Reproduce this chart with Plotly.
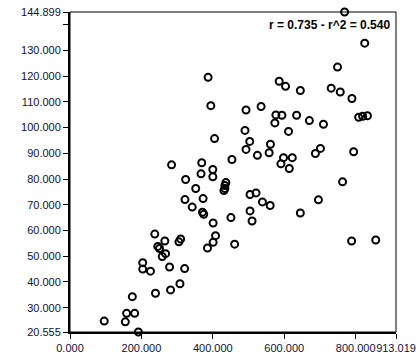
import plotly.graph_objects as go

# data
x_vals = [386.8, 394.4, 404.8, 453.5, 284.5, 369.0, 400.0, 400.0, 367.0, 323.9,
          436.6, 433.8, 433.8, 431.0, 352.1, 322.0, 372.7, 342.3, 371.0, 374.6,
          400.8, 450.7, 237.5, 265.6, 309.9, 305.1, 407.6, 400.8, 385.1, 461.1,
          245.9, 250.7, 267.6, 258.3, 203.7, 203.7, 225.4, 278.9, 321.1, 307.9,
          281.7, 239.4, 174.6, 158.6, 181.1, 154.9, 95.8, 191.5,
          749.3, 585.9, 603.7, 645.1, 731.5, 756.9, 789.6, 493.0, 535.2, 576.6,
          593.5, 573.8, 634.6, 670.4, 709.9, 808.5, 819.7, 833.0, 490.1, 612.1,
          503.4, 493.0, 561.4, 557.7, 524.8, 701.4, 687.3, 794.4, 598.0, 622.5,
          590.7, 614.1, 763.4, 504.2, 521.1, 538.9, 560.6, 695.8, 504.2, 509.9,
          645.1, 788.7, 856.3, 769.0, 825.4]
y_vals = [119.5, 108.5, 95.7, 87.6, 85.5, 86.3, 83.7, 80.9, 82.0, 79.8,
          78.6, 77.5, 76.3, 75.5, 76.3, 72.0, 72.4, 69.1, 67.1, 66.3,
          62.9, 65.0, 58.6, 55.9, 56.7, 55.6, 58.0, 55.4, 53.2, 54.7,
          53.8, 53.0, 51.0, 49.9, 47.5, 45.0, 44.2, 45.8, 45.2, 39.3,
          36.9, 35.6, 34.3, 27.8, 27.8, 24.5, 24.8, 20.555,
          123.5, 118.0, 116.0, 114.4, 115.3, 113.8, 111.3, 106.8, 108.2, 104.9,
          104.8, 101.8, 104.8, 102.7, 101.3, 104.0, 104.4, 104.6, 98.9, 98.5,
          94.6, 91.5, 93.5, 90.2, 89.2, 91.9, 89.9, 90.6, 88.3, 88.3,
          85.9, 84.1, 78.9, 74.0, 74.6, 71.1, 69.7, 71.9, 67.6, 63.7,
          66.8, 55.9, 56.3, 144.899, 132.8]

x_tick_vals = [0, 200, 400, 600, 800, 913.019]
x_tick_text = ["0.000", "200.000", "400.000", "600.000", "800.000", "913.019"]
y_tick_vals = [20.555, 30, 40, 50, 60, 70, 80, 90, 100, 110, 120, 130, 140, 144.899]
y_tick_text = ["20.555", "30.000", "40.000", "50.000", "60.000", "70.000", "80.000",
               "90.000", "100.000", "110.000", "120.000", "130.000", "", "144.899"]
stats_text = "r = 0.735 - r^2 = 0.540"

fig = go.Figure()
fig.add_trace(go.Scatter(
    x=x_vals, y=y_vals, mode="markers",
    marker=dict(symbol="circle-open", size=7, color="black",
                line=dict(width=2, color="black")),
    showlegend=False, cliponaxis=False,
))

axis_common = dict(showgrid=False, zeroline=False, showline=True, linecolor="#000000",
                   linewidth=2, mirror=False, ticks="outside", ticklen=5, tickwidth=1,
                   tickcolor="#000000", automargin=False, tickangle=0,
                   tickfont=dict(family="Liberation Sans", size=11, color="#101030"))
fig.update_layout(
    width=420, height=360,
    margin=dict(l=70, r=24, t=12, b=28),
    paper_bgcolor="white", plot_bgcolor="white",
    xaxis=dict(range=[0, 913.019], tickmode="array", tickvals=x_tick_vals,
               ticktext=x_tick_text, **axis_common),
    yaxis=dict(range=[20.555, 144.899], tickmode="array", tickvals=y_tick_vals,
               ticktext=y_tick_text, **axis_common),
    shapes=[dict(type="rect", xref="paper", yref="paper", x0=0, x1=1, y0=0, y1=1,
                 line=dict(color="#000000", width=1), layer="below")],
    annotations=[dict(text="<b>" + stats_text + "</b>", xref="paper", yref="paper",
                      x=1, y=1, xanchor="right", yanchor="top", xshift=-4, yshift=-4,
                      showarrow=False,
                      font=dict(family="Liberation Sans", size=12, color="black"))],
)

fig.write_html("out.html")
